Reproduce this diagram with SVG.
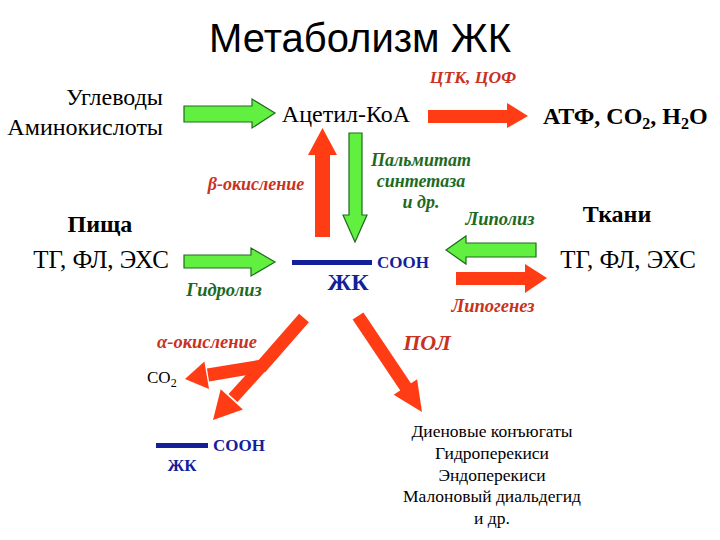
<svg xmlns="http://www.w3.org/2000/svg" width="720" height="540" viewBox="0 0 720 540">
<style>
.t{font-family:"Liberation Serif","Times New Roman",serif;fill:#000}
.title{font-family:"Liberation Sans",Arial,sans-serif;font-size:40px;fill:#000}
.b{font-weight:bold}
.lr{font-family:"Liberation Serif","Times New Roman",serif;font-style:italic;font-weight:bold;fill:#c8321e}
.lg{font-family:"Liberation Serif","Times New Roman",serif;font-style:italic;font-weight:bold;fill:#1e6a1e}
.bl{font-family:"Liberation Serif","Times New Roman",serif;font-weight:bold;fill:#14209a}
.ga{fill:#62f040;stroke:#1e6a1e;stroke-width:1.2}
.ra{fill:#ff3c14}
.rs{stroke:#ff3c14;fill:none}
</style>
<rect width="720" height="540" fill="#fff"/>
<text class="title" x="360" y="52" text-anchor="middle">Метаболизм ЖК</text>

<g id="sources">
<text class="t" x="163" y="105" font-size="24" text-anchor="end">Углеводы</text>
<text class="t" x="163" y="135" font-size="24" text-anchor="end">Аминокислоты</text>
</g>
<g id="acetyl"><text class="t" x="346" y="122" font-size="24" text-anchor="middle">Ацетил-КоА</text></g>
<g id="atp"><text class="t b" x="543" y="124" font-size="24">АТФ, СО<tspan font-size="16" dy="5">2</tspan><tspan dy="-5">, Н</tspan><tspan font-size="16" dy="5">2</tspan><tspan dy="-5">О</tspan></text></g>
<g id="food">
<text class="t b" x="100" y="232" font-size="24" text-anchor="middle">Пища</text>
<text class="t" x="101" y="268" font-size="25" text-anchor="middle">ТГ, ФЛ, ЭХС</text>
</g>
<g id="tissues">
<text class="t b" x="617" y="222" font-size="24" text-anchor="middle">Ткани</text>
<text class="t" x="628" y="268" font-size="25" text-anchor="middle">ТГ, ФЛ, ЭХС</text>
</g>
<g id="fa">
<rect x="292" y="260" width="80" height="5" fill="#14209a"/>
<text class="bl" x="377" y="268" font-size="17">СООН</text>
<text class="bl" x="348" y="290" font-size="24" text-anchor="middle">ЖК</text>
</g>
<g id="co2"><text class="t" x="147" y="383" font-size="17">СО<tspan font-size="12" dy="4">2</tspan></text></g>
<g id="fa2">
<rect x="156" y="443" width="52" height="5" fill="#14209a"/>
<text class="bl" x="213" y="451" font-size="17">СООН</text>
<text class="bl" x="182" y="471" font-size="17" text-anchor="middle">ЖК</text>
</g>
<g id="pol-products">
<text class="t" x="492" y="437" font-size="17.5" text-anchor="middle">Диеновые конъюгаты</text>
<text class="t" x="492" y="459" font-size="17.5" text-anchor="middle">Гидроперекиси</text>
<text class="t" x="492" y="481" font-size="17.5" text-anchor="middle">Эндоперекиси</text>
<text class="t" x="492" y="502" font-size="17.5" text-anchor="middle">Малоновый диальдегид</text>
<text class="t" x="492" y="524" font-size="17.5" text-anchor="middle">и др.</text>
</g>

<g id="labels">
<text class="lr" x="473" y="83" font-size="17.5" text-anchor="middle">ЦТК, ЦОФ</text>
<text class="lr" x="256" y="190" font-size="18" text-anchor="middle">β-окисление</text>
<text class="lg" x="421" y="166" font-size="18" text-anchor="middle">Пальмитат</text>
<text class="lg" x="421" y="187" font-size="18" text-anchor="middle">синтетаза</text>
<text class="lg" x="421" y="208" font-size="18" text-anchor="middle">и др.</text>
<text class="lg" x="224" y="296" font-size="18.5" text-anchor="middle">Гидролиз</text>
<text class="lg" x="500" y="225" font-size="18.5" text-anchor="middle">Липолиз</text>
<text class="lr" x="493" y="312" font-size="18.5" text-anchor="middle">Липогенез</text>
<text class="lr" x="207" y="348" font-size="18.5" text-anchor="middle">α-окисление</text>
<text class="lr" x="427" y="350" font-size="22" text-anchor="middle">ПОЛ</text>
</g>

<g id="connectors">
<polygon class="ga" points="184,106 252,106 252,99 275,113 252,128 252,122 184,122"/>
<polygon class="ra" points="428,110 507,110 507,103 528,116 507,128 507,123 428,123"/>
<polygon class="ra" points="315,237 315,155 308,155 322.5,128 337,155 330,155 330,237"/>
<polygon class="ga" points="349,133 362,133 362,215 367,215 355,242 343,215 349,215"/>
<polygon class="ga" points="184,255 251,255 251,248 275,262 251,276 251,268 184,268"/>
<polygon class="ga" points="536,243 466,243 466,236 446,250 466,264 466,257 536,257"/>
<polygon class="ra" points="456,272 525,272 525,264 547,278 525,293 525,285 456,285"/>
<g>
<line class="rs" x1="358" y1="316" x2="407" y2="389" stroke-width="13"/>
<polygon class="ra" points="393.7,394.8 417.1,379.2 422,412"/>
</g>
<g>
<polyline class="rs" points="304,318 262,366 208,375" stroke-width="13" stroke-linejoin="miter"/>
<line class="rs" x1="262" y1="366" x2="233" y2="398" stroke-width="12"/>
<polygon class="ra" points="204.4,361.5 209,389.1 185,379"/>
<polygon class="ra" points="220.7,389.2 242.9,409.4 213,420"/>
</g>
</g>
</svg>
